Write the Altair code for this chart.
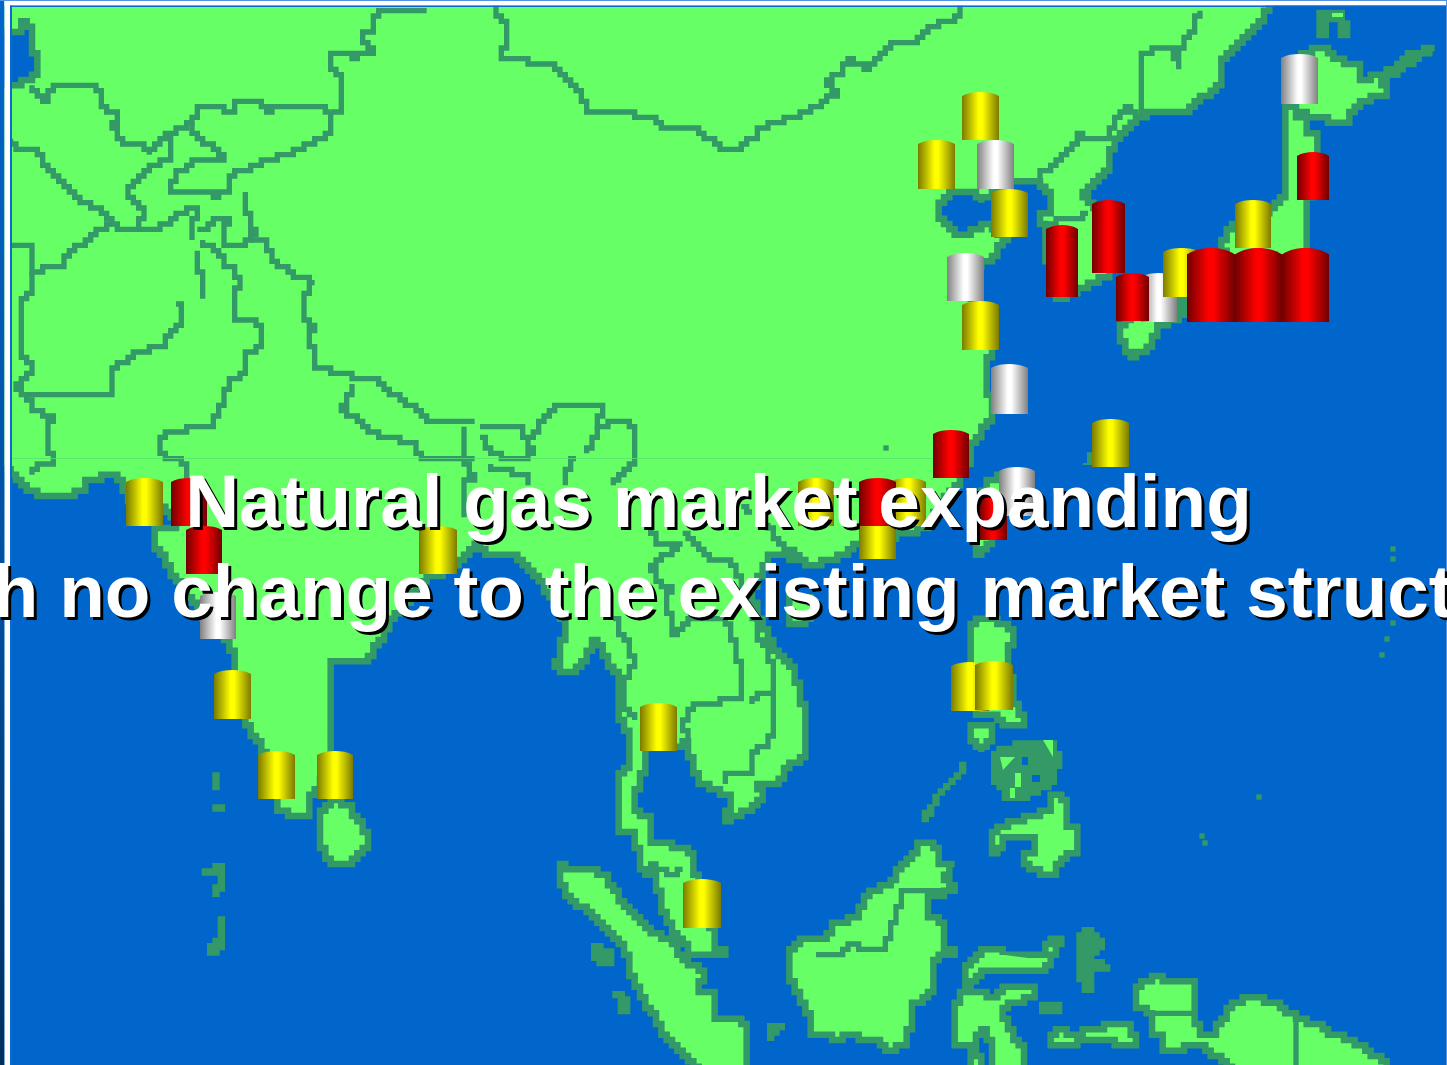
import altair as alt

W, H = 1447, 1065
LAND = "#66ff66"
COAST = "#339966"
SEA = "#0066cc"
CELL = 16 / 3

TITLE_LINES = ["Natural gas market expanding",
               "with no change to the existing market structure"]
TITLE_Y = [527, 617]
TITLE_X = [718.5, 729.5]

# Coastlines, in map units
MAINLAND = [(-20, -20), (1275, -20), (1268, 7), (1262, 20), (1247, 37), (1233, 53), (1223, 62), (1223, 88),
            (1200, 100), (1190, 110), (1150, 112), (1142, 118), (1120, 140), (1112, 157), (1107, 168),
            (1087, 190), (1082, 197), (1088, 203), (1105, 220), (1115, 265), (1107, 275), (1085, 288),
            (1078, 295), (1060, 297), (1050, 290), (1046, 228), (1042, 213), (1050, 207), (1052, 190),
            (1042, 182), (1027, 182), (1013, 183), (995, 190), (983, 205), (975, 192), (960, 190), (947, 197),
            (937, 207), (937, 217), (947, 227), (960, 237), (975, 228), (983, 223), (1000, 235), (1010, 240),
            (1005, 248), (993, 260), (983, 262), (975, 270), (972, 300), (985, 325), (990, 350), (985, 365),
            (985, 385), (990, 415), (985, 427), (977, 442), (972, 455), (965, 475), (950, 495), (927, 528),
            (910, 532), (860, 545), (850, 552), (817, 565), (800, 562), (780, 553), (767, 558), (763, 572),
            (753, 595), (763, 632), (780, 655), (797, 672), (800, 702), (805, 710), (805, 757), (787, 770),
            (780, 782), (760, 782), (762, 798), (743, 817), (725, 820), (730, 793), (702, 782), (692, 767),
            (690, 743), (678, 745), (650, 748), (647, 753), (643, 768), (642, 788), (637, 790), (637, 808),
            (652, 820), (653, 845), (680, 848), (692, 860), (692, 873), (700, 880), (713, 937), (715, 948),
            (725, 953), (693, 955), (683, 937), (667, 918), (662, 902), (657, 873), (643, 868), (638, 857),
            (637, 832), (620, 830), (620, 775), (627, 770), (627, 738), (618, 710), (617, 677), (608, 655),
            (600, 638), (583, 665), (570, 673), (557, 667), (558, 648), (563, 625), (555, 600), (540, 575),
            (520, 562), (513, 552), (493, 552), (480, 545), (467, 555), (457, 563), (427, 582), (393, 618),
            (377, 645), (367, 662), (337, 662), (330, 670), (330, 710), (333, 747), (325, 780), (317, 793),
            (308, 807), (308, 817), (293, 817), (282, 810), (280, 800), (267, 750), (255, 738), (245, 722),
            (237, 662), (230, 642), (215, 625), (190, 600), (170, 572), (163, 555), (157, 542), (157, 530),
            (175, 530), (178, 518), (165, 506), (127, 500), (123, 478), (117, 475), (93, 478), (87, 488),
            (67, 495), (50, 498), (33, 492), (20, 482), (12, 468), (-20, 468), (-20, 85), (12, 85), (22, 80),
            (32, 78), (38, 70), (35, 55), (30, 40), (30, 26), (22, 24), (20, 30), (10, 32), (-20, 32)]
SRI_LANKA = [(328, 802), (347, 803), (353, 817), (363, 827), (368, 837), (368, 847), (358, 858), (347, 865),
             (330, 865), (323, 850), (318, 842), (318, 815), (325, 807)]
HOKKAIDO = [(1313, 50), (1320, 47), (1328, 52), (1333, 60), (1348, 62), (1358, 62), (1358, 78), (1373, 80),
            (1373, 72), (1393, 68), (1410, 55), (1433, 47), (1433, 50), (1413, 63), (1390, 75), (1382, 88),
            (1385, 97), (1363, 103), (1348, 115), (1347, 125), (1332, 125), (1322, 115), (1300, 113),
            (1290, 110), (1290, 60), (1310, 52)]
HONSHU = [(1283, 107), (1295, 108), (1295, 118), (1305, 125), (1305, 135), (1316, 135), (1316, 155), (1310, 190),
          (1307, 203), (1305, 213), (1305, 255), (1310, 315), (1190, 315), (1178, 300), (1200, 275), (1228, 255),
          (1223, 240), (1228, 230), (1235, 225), (1270, 210), (1278, 197), (1285, 192), (1283, 152), (1283, 135)]
KYUSHU = [(1150, 300), (1180, 300), (1180, 320), (1160, 323), (1150, 340), (1147, 353), (1130, 358), (1125, 345),
          (1120, 327)]
TAIWAN = [(987, 478), (1000, 476), (1003, 500), (995, 535), (988, 550), (977, 553), (975, 520), (980, 495)]
HAINAN = [(790, 600), (810, 595), (815, 615), (805, 625), (790, 622)]
LUZON = [(970, 625), (983, 617), (1003, 622), (1012, 635), (1010, 662), (1015, 700), (1025, 725), (1010, 725),
         (995, 715), (975, 712), (970, 650)]
MINDORO = [(972, 723), (993, 727), (993, 743), (983, 750), (972, 733)]
MINDANAO = [(1052, 793), (1068, 798), (1068, 825), (1075, 827), (1075, 852), (1068, 860), (1060, 860), (1058, 875),
            (1045, 875), (1030, 863), (1023, 853), (1032, 852), (1032, 838), (1005, 838), (1005, 850), (993, 853),
            (993, 832), (1008, 822), (1035, 815), (1050, 805)]
SUMATRA = [(562, 863), (568, 868), (593, 870), (605, 875), (610, 888), (630, 910), (653, 932), (668, 940), (688, 963),
           (702, 970), (697, 990), (713, 993), (717, 1018), (738, 1020), (747, 1030), (745, 1085), (700, 1085),
           (700, 1065), (667, 1037), (653, 1010), (635, 983), (622, 943), (597, 918), (568, 890), (562, 873)]
BORNEO = [(917, 842), (932, 843), (940, 862), (953, 865), (952, 872), (943, 882), (953, 885), (953, 892), (938, 897),
          (928, 903), (928, 915), (942, 923), (945, 947), (957, 955), (938, 955), (933, 965), (933, 990), (910, 1007),
          (912, 1018), (905, 1043), (893, 1050), (885, 1053), (882, 1040), (867, 1038), (852, 1033), (843, 1042),
          (837, 1040), (833, 1032), (808, 1032), (808, 1017), (802, 993), (793, 987), (788, 970), (788, 955),
          (795, 943), (798, 938), (815, 940), (828, 940), (832, 923), (857, 917), (860, 907), (868, 892), (885, 885),
          (898, 877), (902, 863), (915, 850)]
SULAWESI_NORTH = [(967, 967), (983, 950), (1005, 950), (1005, 955), (1040, 953), (1053, 940), (1063, 945), (1047, 970),
                  (980, 970), (978, 982), (967, 990)]
SULAWESI = [(953, 1000), (960, 993), (975, 990), (993, 997), (1003, 987), (1032, 987), (1032, 997), (1017, 1003),
            (1003, 1010), (1008, 1030), (1017, 1047), (1025, 1053), (1025, 1085), (998, 1085), (993, 1050), (985, 1030),
            (977, 1033), (982, 1085), (968, 1085), (968, 1043), (953, 1043)]
NEW_GUINEA = [(1137, 987), (1152, 977), (1163, 975), (1165, 980), (1187, 980), (1192, 987), (1192, 1013), (1197, 1017),
              (1200, 1032), (1210, 1032), (1232, 1005), (1248, 997), (1273, 1005), (1285, 1015), (1310, 1022),
              (1333, 1037), (1348, 1038), (1368, 1050), (1385, 1065), (1385, 1085), (1230, 1085), (1230, 1065),
              (1207, 1048), (1193, 1047), (1177, 1053), (1163, 1053), (1162, 1035), (1152, 1032), (1152, 1012),
              (1137, 1000)]
CERAM = [(1083, 1027), (1127, 1025), (1138, 1038), (1138, 1048), (1125, 1048), (1108, 1042), (1083, 1038)]
BURU = [(1052, 1032), (1058, 1027), (1075, 1032), (1075, 1043), (1068, 1048), (1060, 1048), (1052, 1043)]
COASTED_LAND = [MAINLAND, SRI_LANKA, HOKKAIDO, HONSHU, KYUSHU, TAIWAN, HAINAN, LUZON, MINDORO, MINDANAO, SUMATRA,
                BORNEO, SULAWESI_NORTH, SULAWESI, NEW_GUINEA, CERAM, BURU]

# Islands small enough to be all outline
SAKHALIN = [(1315, 8), (1345, 10), (1348, 35), (1340, 35), (1338, 23), (1328, 22), (1327, 35), (1315, 35)]
PALAWAN = [(921, 822), (921, 812), (945, 785), (955, 772), (958, 762), (963, 762), (963, 775), (945, 797), (927, 822)]
VISAYAS = [(993, 752), (1013, 743), (1058, 740), (1063, 767), (1053, 787), (1023, 800), (1003, 800), (1003, 788),
           (993, 778)]
HALMAHERA = [(1077, 940), (1085, 927), (1102, 938), (1102, 950), (1093, 958), (1107, 967), (1107, 972), (1092, 972),
             (1095, 992), (1088, 993), (1078, 977)]
SULA = [(1040, 1005), (1063, 1005), (1063, 1013), (1040, 1013)]
NIAS = [(593, 943), (600, 945), (611, 955), (611, 965), (600, 965), (593, 950)]
MENTAWAI = [(615, 992), (620, 992), (632, 1003), (632, 1013), (620, 1013), (620, 1000)]
BANGKA = [(767, 1025), (775, 1022), (782, 1030), (772, 1038), (767, 1038)]
LACCADIVE_A = [(212, 772), (220, 772), (220, 790), (212, 790)]
LACCADIVE_B = [(212, 804), (225, 804), (225, 811), (212, 811)]
MALDIVE_A = [(202, 868), (212, 868), (212, 863), (225, 863), (225, 892), (220, 897), (212, 897), (212, 890),
             (218, 875), (202, 875)]
MALDIVE_B = [(217, 916), (225, 916), (225, 945), (220, 955), (212, 955), (207, 950), (207, 943), (217, 940)]
OKINAWA = [(1083, 466), (1088, 452), (1094, 452), (1094, 466)]
SOLID_ISLANDS = [SAKHALIN, PALAWAN, VISAYAS, HALMAHERA, SULA, NIAS, MENTAWAI, BANGKA, LACCADIVE_A, LACCADIVE_B,
                 MALDIVE_A, MALDIVE_B, OKINAWA]

# Green interiors and sea pockets of the island clusters
GREEN_SPOTS = [[(1000, 757), (1015, 757), (1003, 770)], [(1043, 740), (1053, 740), (1053, 757)],
               [(1015, 773), (1021, 773), (1021, 787), (1015, 787)], [(1010, 788), (1015, 788), (1015, 798), (1010, 798)],
               [(1332, 13), (1343, 13), (1343, 17), (1332, 17)], [(985, 955), (1005, 955), (1045, 960), (985, 962)]]
SEA_SPOTS = [[(1022, 757), (1028, 757), (1028, 765), (1022, 765)], [(1032, 775), (1040, 775), (1040, 782), (1032, 782)]]

# Political boundaries
BORDERS = [
    [(1042, 180), (1038, 173), (1048, 168), (1055, 158), (1068, 152), (1073, 142), (1077, 132), (1088, 140), (1093, 137),
     (1103, 137), (1115, 125), (1117, 115), (1123, 105), (1135, 117)],
    [(1047, 223), (1060, 220), (1072, 220), (1088, 212)],
    [(1143, 115), (1143, 55), (1153, 50), (1157, 47), (1175, 50), (1177, 70), (1177, 50), (1182, 40), (1187, 30),
     (1193, 20), (1200, 8)],
    [(497, 7), (497, 15), (507, 25), (507, 48), (502, 52), (502, 58), (530, 58), (530, 63), (557, 63), (560, 72),
     (568, 78), (578, 88), (580, 102), (585, 110), (635, 112), (637, 117), (655, 117), (657, 122), (667, 127), (693, 127),
     (697, 133), (708, 137), (717, 143), (720, 148), (735, 148), (740, 142), (752, 137), (760, 127), (773, 122),
     (788, 116), (805, 110), (823, 100), (838, 90), (827, 78), (838, 73), (843, 63), (848, 58), (855, 63), (865, 68),
     (885, 47), (890, 42), (913, 42), (927, 28), (947, 23), (958, 12), (960, 7)],
    [(425, 9), (383, 9), (373, 20), (373, 33), (363, 37), (363, 43), (375, 52), (352, 58), (350, 52), (331, 52), (331, 67),
     (340, 75), (343, 85), (343, 110), (331, 113)],
    [(331, 113), (323, 105), (273, 105), (270, 112), (262, 100), (242, 100), (237, 107), (233, 112), (217, 108), (197, 105),
     (195, 117), (187, 127), (170, 132), (163, 140), (147, 153), (143, 142), (125, 142), (115, 130), (110, 125), (117, 112),
     (100, 105), (100, 93), (92, 88), (57, 88), (50, 95), (47, 100), (40, 95), (33, 87)],
    [(331, 113), (331, 133), (320, 140), (305, 148), (290, 155), (270, 162), (245, 170), (237, 175), (230, 183), (230, 190),
     (220, 195), (213, 190), (173, 190), (177, 173), (195, 158), (223, 158), (223, 153), (213, 143), (195, 140), (190, 125)],
    [(13, 140), (17, 147), (35, 148), (42, 163), (53, 178), (70, 190), (90, 208), (107, 213), (113, 223), (120, 228),
     (157, 228), (170, 220), (180, 213), (185, 207), (197, 207), (193, 240)],
    [(113, 223), (97, 233), (83, 248), (67, 252), (62, 267), (33, 272), (32, 247), (12, 246)],
    [(33, 272), (32, 293), (23, 302), (23, 355), (33, 365), (30, 375), (25, 380), (18, 390), (27, 395), (30, 412), (52, 417),
     (47, 432), (47, 452), (52, 453), (52, 462), (42, 462), (33, 473)],
    [(168, 132), (168, 160), (157, 163), (143, 178), (132, 185), (127, 195), (138, 200), (142, 217), (137, 228)],
    [(243, 193), (248, 197), (250, 227), (255, 230), (253, 240), (247, 245), (223, 245), (223, 223), (230, 218), (217, 218),
     (210, 227), (197, 230)],
    [(253, 240), (260, 240), (265, 253), (280, 267), (297, 277), (317, 283), (312, 293), (305, 297), (305, 322), (315, 330),
     (310, 343), (315, 355), (315, 368), (347, 372), (350, 380), (373, 378), (383, 388), (393, 397), (407, 405), (418, 413),
     (427, 422), (460, 423), (477, 423)],
    [(200, 240), (203, 247), (220, 252), (222, 267), (237, 272), (238, 290), (233, 293), (233, 320), (250, 322), (260, 333),
     (260, 347), (248, 355), (248, 375), (230, 385), (225, 398), (220, 413), (213, 427), (167, 433), (162, 455), (167, 458),
     (185, 463), (185, 478)],
    [(195, 250), (197, 273), (202, 275), (202, 300)],
    [(175, 303), (180, 308), (180, 325), (170, 330), (163, 348), (140, 352), (128, 362), (120, 365), (113, 373), (110, 395),
     (27, 395)],
    [(350, 383), (347, 408), (342, 413), (357, 423), (370, 432), (383, 440), (410, 445), (417, 453), (420, 458), (460, 460),
     (473, 458)],
    [(463, 428), (463, 455), (462, 462), (477, 478), (465, 482), (465, 515)],
    [(482, 427), (525, 427), (525, 435), (535, 433), (542, 417), (552, 407), (593, 407), (602, 412), (597, 425), (610, 422),
     (625, 423), (635, 427), (633, 465), (620, 478), (615, 483)],
    [(597, 425), (600, 435), (585, 455)],
    [(480, 440), (492, 455), (513, 457), (532, 452), (530, 437)],
    [(492, 462), (492, 472), (527, 473), (530, 485)],
    [(577, 458), (568, 473), (568, 485)],
    [(648, 528), (657, 543), (683, 545), (663, 558), (653, 572), (662, 585), (673, 585), (668, 605), (670, 633), (680, 622),
     (693, 618), (720, 620), (730, 627), (735, 657), (743, 668), (743, 695), (740, 698), (700, 702), (693, 710), (685, 727),
     (690, 740)],
    [(682, 532), (703, 552), (707, 558), (728, 558), (737, 572), (753, 608), (757, 638), (767, 652), (775, 675), (775, 730),
     (770, 747), (753, 753), (750, 773), (730, 773), (727, 782)],
    [(775, 695), (760, 695), (750, 705)],
    [(613, 620), (627, 648), (633, 665), (623, 680), (623, 710), (632, 710), (635, 720)],
    [(770, 525), (773, 538), (800, 558)],
    [(740, 508), (753, 512)],
    [(643, 867), (653, 865), (667, 875), (683, 870)],
    [(817, 955), (840, 955), (847, 945), (862, 948), (875, 952), (887, 943), (892, 927), (897, 912), (902, 895), (900, 892),
     (953, 890)],
    [(1152, 1013), (1192, 1013)],
    [(1297, 1020), (1297, 1065)],
]

# Scattered specks of land
SPECK_X = [886, 1393, 1393, 1393, 1387, 1382, 1259, 1202, 1205]
SPECK_Y = [448, 549, 559, 623, 639, 655, 797, 836, 843]

# Storage cylinders, back to front: left, right, top, bottom, colour family
CYL_LEFT = [962, 918, 977, 991, 947, 962, 991, 1092, 979, 999, 933, 859, 798, 890, 859,
            1046, 1092, 1141, 1116, 1163, 1235, 1187, 1235, 1282, 1297, 1281,
            951, 975, 640, 683, 258, 317, 214, 126, 171, 186, 200, 419]
CYL_RIGHT = [999, 955, 1014, 1028, 984, 999, 1028, 1129, 1007, 1035, 969, 896, 834, 926, 896,
             1078, 1125, 1177, 1149, 1200, 1271, 1235, 1282, 1329, 1329, 1318,
             989, 1013, 677, 721, 295, 353, 251, 163, 207, 222, 236, 457]
CYL_TOP = [92, 140, 140, 189, 253, 301, 364, 419, 492, 467, 430, 511, 478, 478, 478,
           225, 200, 273, 273, 248, 200, 248, 248, 248, 152, 54,
           662, 661, 703, 879, 751, 751, 670, 478, 478, 526, 592, 526]
CYL_BOTTOM = [140, 189, 189, 237, 301, 350, 414, 467, 540, 516, 478, 559, 526, 526, 526,
              297, 273, 322, 321, 297, 248, 322, 322, 322, 200, 104,
              711, 710, 751, 928, 799, 799, 719, 526, 526, 574, 639, 574]
CYL_KIND = ["y", "y", "w", "y", "w", "y", "w", "y", "r", "w", "r", "y", "y", "y", "r",
            "r", "r", "w", "r", "y", "y", "r", "r", "r", "r", "w",
            "y", "y", "y", "y", "y", "y", "y", "y", "r", "r", "w", "y"]
CYL_SHADES = {"y": ("#7a7a00", "#ffff00"), "r": ("#700000", "#ff0000"), "w": ("#808080", "#ffffff")}

x_scale = alt.Scale(domain=[0, W], nice=False, zero=False)
y_scale = alt.Scale(domain=[H, 0], nice=False, zero=False)
identity = {"type": "identity", "scale": 1, "translate": [0, 0]}


def stepped(points, closed=False):
    """Snap an outline to the map's coarse raster so that it runs in horizontal and vertical steps."""
    cells = [(round(x / CELL), round(y / CELL)) for x, y in points]
    if closed:
        cells.append(cells[0])
    path = [cells[0]]
    for (i0, j0), (i1, j1) in zip(cells, cells[1:]):
        n = max(abs(i1 - i0), abs(j1 - j0))
        for k in range(1, n + 1):
            i, j = round(i0 + (i1 - i0) * k / n), round(j0 + (j1 - j0) * k / n)
            pi, pj = path[-1]
            if i != pi and j != pj:
                path.append((i, pj))
            path.append((i, j))
    return [[i * CELL, j * CELL] for i, j in path]


def polygons(rings, snap=True):
    out = []
    for ring in rings:
        coords = stepped(ring, closed=True) if snap else [list(p) for p in ring] + [list(ring[0])]
        out.append({"type": "Feature", "properties": {}, "geometry": {"type": "Polygon", "coordinates": [coords]}})
    return out


def lines(paths):
    return [{"type": "Feature", "properties": {},
             "geometry": {"type": "LineString", "coordinates": stepped(p)}} for p in paths]


def horizontal(dark, bright):
    return alt.Gradient(gradient="linear", x1=0, x2=1, y1=0, y2=0,
                        stops=[alt.GradientStop(color=dark, offset=0), alt.GradientStop(color=bright, offset=0.45),
                               alt.GradientStop(color=bright, offset=0.55), alt.GradientStop(color=dark, offset=1)])


def band(x0, x1, y0, y1, fill):
    return alt.Chart(alt.Data(values=[{"a": x0, "b": x1, "c": y0, "d": y1}])).mark_rect(fill=fill).encode(
        x=alt.X("a:Q", scale=x_scale, axis=None), x2="b:Q",
        y=alt.Y("c:Q", scale=y_scale, axis=None), y2="d:Q")


def cylinder(left, right, top, bottom, kind):
    width = right - left
    dome = 4 if width < 45 else 6.5
    fill = horizontal(*CYL_SHADES[kind])
    peak = 2 * dome / width
    cap_path = (f"M-1,0.06 L-1,0 C-0.7,{-0.75 * peak:.4f} -0.35,{-peak:.4f} 0,{-peak:.4f} "
                f"C0.35,{-peak:.4f} 0.7,{-0.75 * peak:.4f} 1,0 L1,0.06 Z")
    row = alt.Data(values=[{"a": left, "b": right, "c": top + dome, "d": bottom, "m": (left + right) / 2}])
    body = alt.Chart(row).mark_rect(fill=fill).encode(
        x=alt.X("a:Q", scale=x_scale, axis=None), x2="b:Q",
        y=alt.Y("c:Q", scale=y_scale, axis=None), y2="d:Q")
    cap = alt.Chart(row).mark_point(shape=cap_path, size=width ** 2, filled=True, fill=fill,
                                    opacity=1, strokeWidth=0).encode(
        x=alt.X("m:Q", scale=x_scale, axis=None), y=alt.Y("c:Q", scale=y_scale, axis=None))
    return [body, cap]


land_layer = alt.Chart(alt.Data(values=polygons(COASTED_LAND))).mark_geoshape(
    fill=LAND, stroke=COAST, strokeWidth=6.5, strokeJoin="miter", strokeCap="square"
).project(**identity)
solid_layer = alt.Chart(alt.Data(values=polygons(SOLID_ISLANDS))).mark_geoshape(
    fill=COAST, stroke=COAST, strokeWidth=2
).project(**identity)
green_layer = alt.Chart(alt.Data(values=polygons(GREEN_SPOTS, snap=False))).mark_geoshape(
    fill=LAND, strokeWidth=0).project(**identity)
sea_layer = alt.Chart(alt.Data(values=polygons(SEA_SPOTS, snap=False))).mark_geoshape(
    fill=SEA, strokeWidth=0).project(**identity)
border_layer = alt.Chart(alt.Data(values=lines(BORDERS))).mark_geoshape(
    filled=False, stroke=COAST, strokeWidth=CELL, strokeJoin="miter", strokeCap="butt"
).project(**identity)
speck_layer = alt.Chart(alt.Data(values=[{"x": a, "y": b} for a, b in zip(SPECK_X, SPECK_Y)])).mark_square(
    size=CELL ** 2, color=COAST, opacity=1).encode(
    x=alt.X("x:Q", scale=x_scale, axis=None), y=alt.Y("y:Q", scale=y_scale, axis=None))

# Thin seam across the land
seam_layer = band(12, 933, 458, 458.8, "#58e070")

cylinder_layers = []
for spec in zip(CYL_LEFT, CYL_RIGHT, CYL_TOP, CYL_BOTTOM, CYL_KIND):
    cylinder_layers.extend(cylinder(*spec))

# Slide frame around the map
side_fade = alt.Gradient(gradient="linear", x1=0, x2=0, y1=0, y2=1,
                         stops=[alt.GradientStop(color="#0066cc", offset=0),
                                alt.GradientStop(color="#00509f", offset=0.55),
                                alt.GradientStop(color="#003060", offset=1)])
frame_layers = [
    band(0, 4.5, 0, H, side_fade),
    band(4.5, 10, 1, H, "#ffffff"),
    band(0, W, 0, 1, "#4f94e4"),
    band(4.5, W, 1, 5.5, "#ffffff"),
    band(10, W, 5.5, 7, "#0a6ad0"),
    band(10, 12, 5.5, H, "#0a6ad0"),
    band(W - 1, W, 0, H, "#4f94e4"),
]

title_rows = alt.Data(values=[{"t": t, "y": y, "x": x} for t, y, x in zip(TITLE_LINES, TITLE_Y, TITLE_X)])


def title_layer(color, dx, dy):
    return alt.Chart(title_rows).mark_text(
        font="Liberation Sans", fontWeight="bold", fontSize=74.7, align="center", baseline="alphabetic",
        color=color, dx=dx, dy=dy).encode(
        x=alt.X("x:Q", scale=x_scale, axis=None), y=alt.Y("y:Q", scale=y_scale, axis=None), text="t:N")


chart = alt.layer(
    land_layer, solid_layer, green_layer, sea_layer, border_layer, speck_layer, seam_layer,
    *cylinder_layers, *frame_layers, title_layer("#000000", 3, 3), title_layer("#ffffff", 0, 0)
).properties(
    width=W, height=H, background=SEA, padding=0, autosize=alt.AutoSizeParams(type="none")
).configure_view(stroke=None)

chart.save("out.html", embed_options={"renderer": "svg", "actions": False})
